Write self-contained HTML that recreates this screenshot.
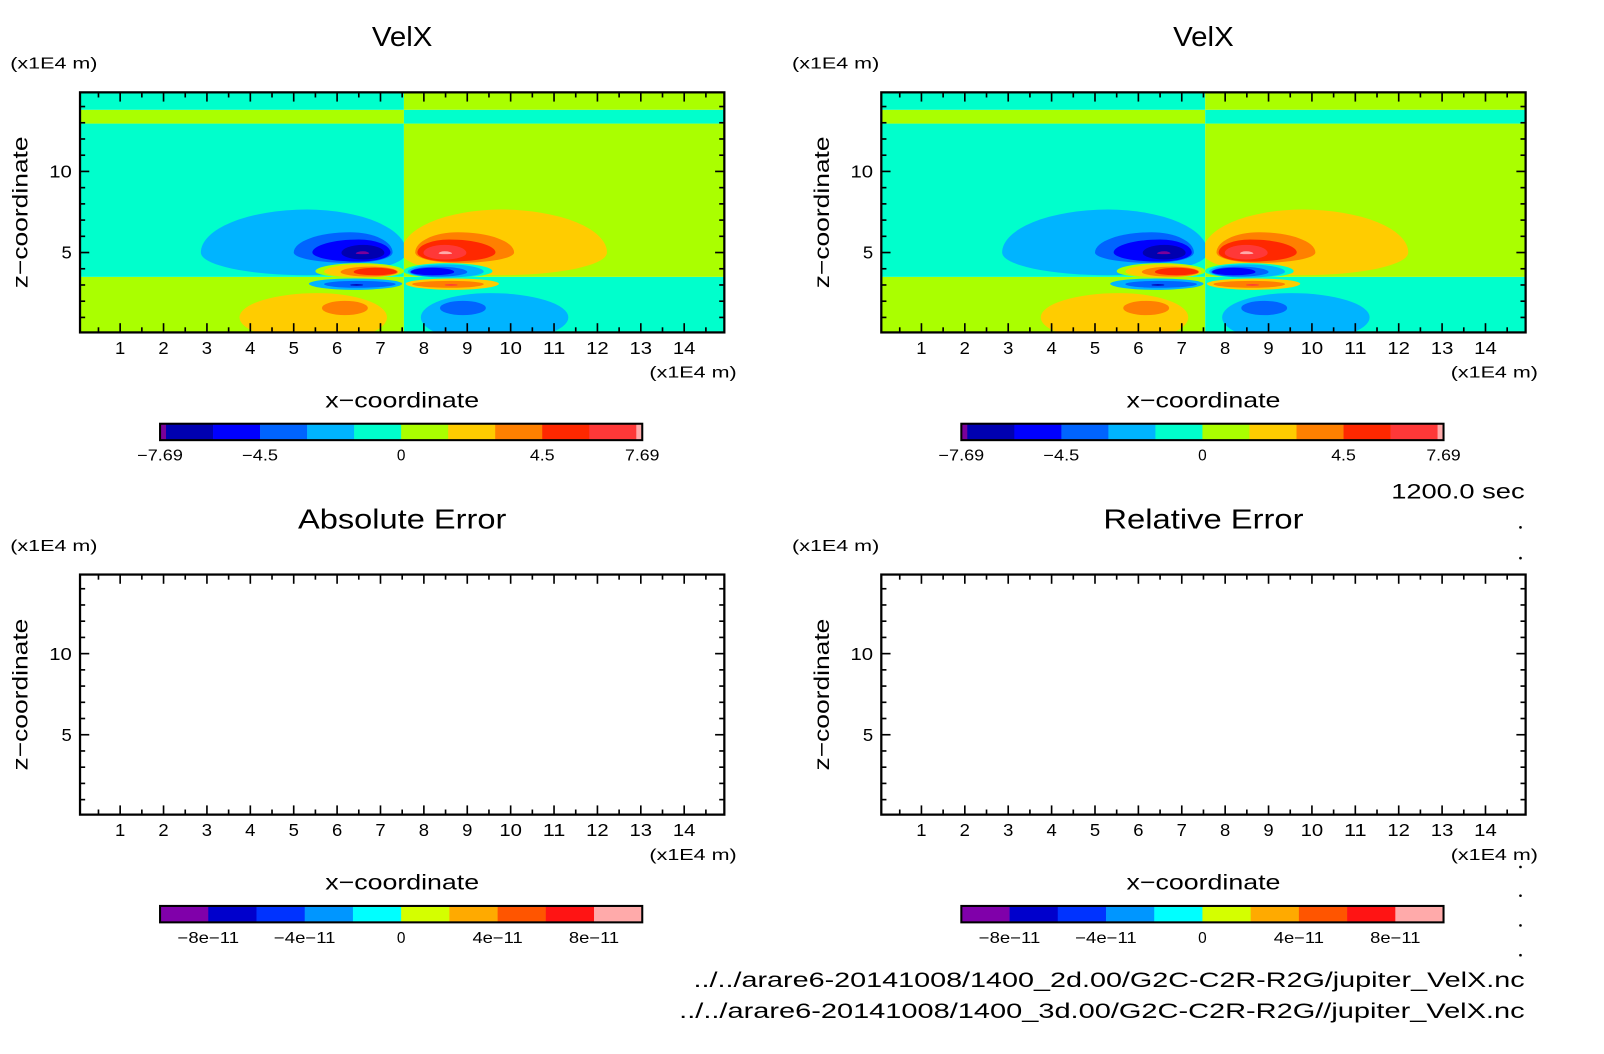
<!DOCTYPE html>
<html><head><meta charset="utf-8"><style>
html,body{margin:0;padding:0;background:#fff;}
svg{display:block;}
text{font-family:"Liberation Sans",sans-serif;fill:#000;}
</style></head><body>
<svg id="fig" xmlns="http://www.w3.org/2000/svg" width="1604" height="1054" viewBox="0 0 1563.4 1027.3">
<rect width="1563.4" height="1027.3" fill="#fff"/>
<text x="1486" y="486" font-size="21" text-anchor="end" textLength="130" lengthAdjust="spacingAndGlyphs">1200.0 sec</text>
<text x="1486" y="962" font-size="21" text-anchor="end" textLength="810" lengthAdjust="spacingAndGlyphs">../../arare6-20141008/1400_2d.00/G2C-C2R-R2G/jupiter_VelX.nc</text>
<text x="1486" y="992" font-size="21" text-anchor="end" textLength="824" lengthAdjust="spacingAndGlyphs">../../arare6-20141008/1400_3d.00/G2C-C2R-R2G//jupiter_VelX.nc</text>
<g fill="#000">
<circle cx="1482" cy="514" r="1.3"/><circle cx="1482" cy="544" r="1.3"/>
<circle cx="1482" cy="845" r="1.3"/><circle cx="1482" cy="873" r="1.3"/><circle cx="1482" cy="902" r="1.3"/><circle cx="1482" cy="931" r="1.3"/>
</g>
</svg>
<script>
// ---- data ----
const xTicks = [1,2,3,4,5,6,7,8,9,10,11,12,13,14];
const zTicks = [5,10];
const velLevels = [-7.69,-7.5,-6,-4.5,-3,-1.5,0,1.5,3,4.5,6,7.5,7.69];
const velColors = ["#7a0099","#0000b0","#0000ff","#0064ff","#00b4ff","#00ffcc","#aaff00","#ffcc00","#ff8000","#ff2800","#ff3838","#ffaaaa"];
const velTickVals = [-7.69,-4.5,0,4.5,7.69];
const velTickText = ["\u22127.69","\u22124.5","0","4.5","7.69"];
const errLevels = [-1e-10,-8e-11,-6e-11,-4e-11,-2e-11,0,2e-11,4e-11,6e-11,8e-11,1e-10];
const errColors = ["#8000aa","#0000cc","#0033ff","#0096ff","#00ffff","#d4ff00","#ffaa00","#ff5500","#ff1414","#ffaaaa"];
const errTickVals = [-8e-11,-4e-11,0,4e-11,8e-11];
const errTickText = ["\u22128e\u221211","\u22124e\u221211","0","4e\u221211","8e\u221211"];
// background horizontal bands on left half; right half mirrored (negated)
const bandZ0 = [0, 3.5, 12.95, 13.8];
const bandZ1 = [3.5, 12.95, 13.8, 15];
const bandVal = [0.7, -0.7, 0.7, -0.7];
// contour blobs on left half; right half mirrored about xMirror with negated value
const xMirror = 7.54;
const blobVal = [-2, -3.5, -5, -6.5, -7.6,   0.7, 2, 3.5, 5,   -2, -3.5, -6.5,   2, 3.5];
const blobX   = [5.3, 6.3, 6.5, 6.6, 6.6,   6.55, 6.6, 6.78, 6.88,   6.4, 6.45, 6.45,   5.55, 6.18];
const blobZ   = [5.0, 5.0, 5.0, 4.98, 4.93,   3.85, 3.82, 3.8, 3.8,   3.08, 3.05, 3.0,   1.0, 1.58];
const blobL   = [2.44, 1.3, 1.07, 0.5, 0.17,   1.05, 0.9, 0.7, 0.5,   1.05, 0.75, 0.15,   1.8, 0.53];
const blobR   = [2.3, 0.98, 0.73, 0.49, 0.14,   1.0, 0.85, 0.62, 0.5,   1.1, 0.9, 0.15,   1.6, 0.53];
const blobU   = [2.65, 1.25, 0.8, 0.49, 0.15,   0.5, 0.45, 0.33, 0.26,   0.32, 0.2, 0.05,   1.5, 0.44];
const blobD   = [1.4, 0.64, 0.56, 0.41, 0.03,   0.42, 0.36, 0.28, 0.2,   0.38, 0.22, 0.05,   1.5, 0.44];

const NS = "http://www.w3.org/2000/svg";
const fig = document.getElementById('fig');
function mk(tag, attrs, parent){const e=document.createElementNS(NS,tag);for(const k in attrs)e.setAttribute(k,attrs[k]);(parent||fig).appendChild(e);return e;}
function fit(e,len){e.setAttribute('textLength',len);e.setAttribute('lengthAdjust','spacingAndGlyphs');}
const X0=0.075, X1=14.925, Z0=0.075, Z1=14.875;

function colorFor(v, levels, colors){
  for(let i=0;i<colors.length;i++){ if(v<levels[i+1]) return colors[i]; }
  return colors[colors.length-1];
}
function labelWidth(s){ let w=0; for(const ch of s){ w += (ch==='\u2212')?11 : (ch==='.')?5 : 9.5; } return w; }

function panel(left, top, unitsX, title, titleName, titleLen, filled, cbLevels, cbColors, cbTickVals, cbTickText, prefix){
  const W=628, H=234;
  const xs = x => left + (x-X0)/(X1-X0)*W;
  const zs = z => top + H - (z-Z0)/(Z1-Z0)*H;
  const g = mk('g',{});
  
  
  const t = mk('text',{x:left+W/2,y:top-45,'font-size':27,'text-anchor':'middle'},g);
  t.textContent=title; fit(t,titleLen);
  
  
  const yu = mk('text',{x:unitsX,y:top-23,'font-size':15},g);
  yu.textContent='(x1E4 m)'; fit(yu,85);
  
  
  const clipId = prefix+'clip';
  const defs = mk('defs',{},g);
  const cpL = mk('clipPath',{id:clipId+'L'},defs); mk('rect',{x:left,y:top,width:xs(xMirror)-left,height:H},cpL);
  const cpR = mk('clipPath',{id:clipId+'R'},defs); mk('rect',{x:xs(xMirror),y:top,width:left+W-xs(xMirror),height:H},cpR);
  if(filled){
    const field = mk('g',{},g);
    
    
    [1,-1].forEach(side=>{
      const sg = mk('g',{'clip-path':'url(#'+clipId+(side>0?'L':'R')+')'},field);
      const mx = x => side>0 ? x : 2*xMirror - x;
      for(let i=0;i<bandVal.length;i++){
        const r = mk('rect',{x:left,y:zs(Math.min(bandZ1[i],Z1+1)),width:W,height:zs(bandZ0[i])-zs(Math.min(bandZ1[i],Z1+1)),fill:colorFor(side*bandVal[i],velLevels,velColors)},sg);
        
        
      }
      for(let i=0;i<blobVal.length;i++){
        const cx = xs(mx(blobX[i])), cz = zs(blobZ[i]);
        let rl = xs(blobL[i])-xs(0), rr = xs(blobR[i])-xs(0);
        if(side<0){ const tmp=rl; rl=rr; rr=tmp; }
        const ru = zs(0)-zs(blobU[i]), rd = zs(0)-zs(blobD[i]);
        const d = `M${cx-rl},${cz} A${rl},${ru} 0 0 1 ${cx},${cz-ru} A${rr},${ru} 0 0 1 ${cx+rr},${cz} A${rr},${rd} 0 0 1 ${cx},${cz+rd} A${rl},${rd} 0 0 1 ${cx-rl},${cz} Z`;
        const p = mk('path',{d:d,fill:colorFor(side*blobVal[i],velLevels,velColors)},sg);
        
        
      }
    });
  }
  const tk = mk('g',{stroke:'#000','stroke-width':1.6},g);
  
  
  for(let x=0.5;x<15;x+=0.5){
    if(x<X0||x>X1) continue;
    const L = (Math.abs(x-Math.round(x))<1e-6)?9:5;
    mk('line',{x1:xs(x),x2:xs(x),y1:top+H,y2:top+H-L},tk);
    mk('line',{x1:xs(x),x2:xs(x),y1:top,y2:top+L},tk);
  }
  for(let z=1;z<15;z+=1){
    const L = (z%5===0)?9:5;
    mk('line',{x1:left,x2:left+L,y1:zs(z),y2:zs(z)},tk);
    mk('line',{x1:left+W,x2:left+W-L,y1:zs(z),y2:zs(z)},tk);
  }
  const box = mk('rect',{x:left,y:top,width:W,height:H,fill:'none',stroke:'#000','stroke-width':2.2},g);
  
  
  xTicks.forEach(v=>{
    const e = mk('text',{x:xs(v),y:top+H+21,'font-size':17,'text-anchor':'middle'},g);
    e.textContent=v; fit(e, String(v).length>1?22:10);
    
    
  });
  zTicks.forEach(v=>{
    const e = mk('text',{x:left-8,y:zs(v)+6,'font-size':17,'text-anchor':'end'},g);
    e.textContent=v; fit(e, String(v).length>1?22:10);
    
    
  });
  const xu = mk('text',{x:left+W+12,y:top+H+44,'font-size':15,'text-anchor':'end'},g);
  xu.textContent='(x1E4 m)'; fit(xu,85);
  
  
  const xl = mk('text',{x:left+W/2,y:top+H+73,'font-size':21,'text-anchor':'middle'},g);
  xl.textContent='x\u2212coordinate'; fit(xl,150);
  
  
  const yl = mk('text',{x:0,y:0,'font-size':21,'text-anchor':'middle',transform:`translate(${left-51},${top+H/2}) rotate(-90)`},g);
  yl.textContent='z\u2212coordinate'; fit(yl,148);
  
  
  const cbL = left+78, cbW = 470, cbT = top+H+89, cbH = 16;
  const lo = cbLevels[0], hi = cbLevels[cbLevels.length-1];
  const cs = v => cbL + (v-lo)/(hi-lo)*cbW;
  const cb = mk('g',{},g);
  
  
  for(let i=0;i<cbColors.length;i++){
    const r = mk('rect',{x:cs(cbLevels[i]),y:cbT,width:cs(cbLevels[i+1])-cs(cbLevels[i])+0.3,height:cbH,fill:cbColors[i]},cb);
    
    
  }
  mk('rect',{x:cbL,y:cbT,width:cbW,height:cbH,fill:'none',stroke:'#000','stroke-width':2},cb);
  cbTickVals.forEach((v,i)=>{
    const e = mk('text',{x:cs(v),y:cbT+cbH+20,'font-size':15,'text-anchor':'middle'},cb);
    e.textContent=cbTickText[i];
    if(cbTickText[i].length>1) fit(e, labelWidth(cbTickText[i]));
    
    
  });
}
panel(78,90,10,'VelX','velx-2d-title',59,true,velLevels,velColors,velTickVals,velTickText,'tl');
panel(859,90,772,'VelX','velx-3d-title',59,true,velLevels,velColors,velTickVals,velTickText,'tr');
panel(78,560,10,'Absolute Error','absolute-error-title',203,false,errLevels,errColors,errTickVals,errTickText,'bl');
panel(859,560,772,'Relative Error','relative-error-title',195,false,errLevels,errColors,errTickVals,errTickText,'br');
</script>
</body></html>
